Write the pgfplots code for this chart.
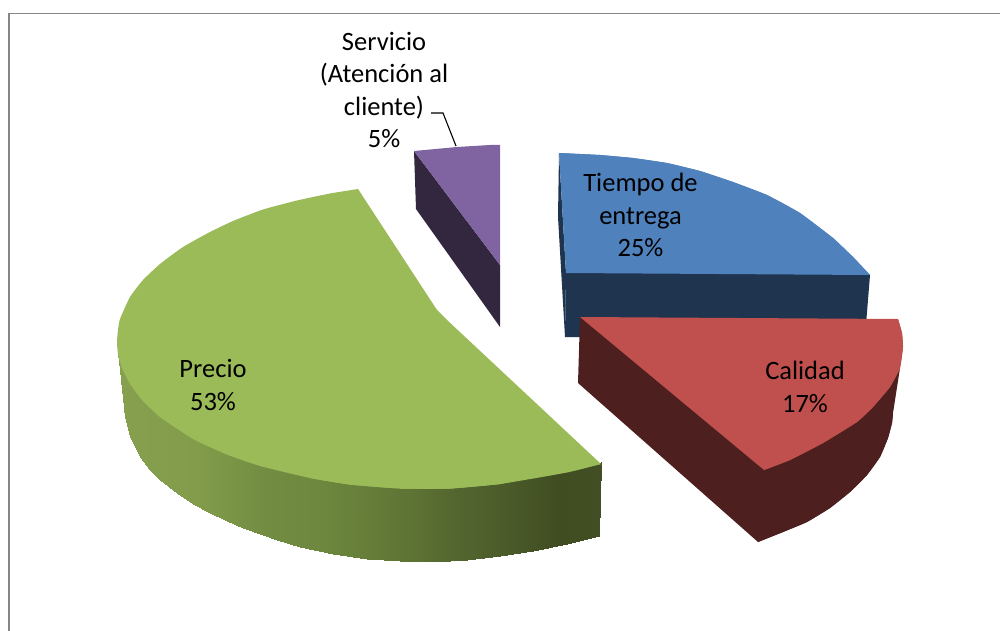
\documentclass[border=0pt]{standalone}
\usepackage{pgfplots}
\pgfplotsset{compat=1.18}
\usepackage{fontspec}
\setmainfont{Carlito}
\definecolor{bordergray}{HTML}{868686}
\definecolor{greentop}{HTML}{9BBB59}
\definecolor{bluetop}{HTML}{4F81BD}
\definecolor{blueside}{HTML}{1F344E}
\definecolor{redtop}{HTML}{C0504D}
\definecolor{redside}{HTML}{4D1F1E}
\definecolor{purpletop}{HTML}{8064A2}
\definecolor{purpleside}{HTML}{33273F}
\tikzset{lbl/.style={font=\fontsize{26.5}{32.4}\selectfont, align=center, text=black, inner sep=0pt},
  arc/.style={draw=none, smooth, tension=0.3}}
\begin{document}
\begin{tikzpicture}
\path[use as bounding box] (0,0) rectangle (1000pt,631pt);
\begin{axis}[
  at={(0,0)}, anchor=south west,
  width=1000pt, height=631pt, scale only axis,
  xmin=0, xmax=1000, ymin=0, ymax=631, y dir=reverse,
  hide axis, clip=true,
  colormap={greenside}{
    rgb255(0pt)=(134,160,79) rgb255(80pt)=(130,156,76) rgb255(113pt)=(122,149,70)
    rgb255(147pt)=(114,141,66) rgb255(197pt)=(110,137,63) rgb255(247pt)=(102,126,57)
    rgb255(297pt)=(93,114,52) rgb255(330pt)=(85,104,48) rgb255(380pt)=(76,93,43)
    rgb255(440pt)=(64,77,33) rgb255(483pt)=(66,78,35)},
  point meta min=118, point meta max=601,
]
% chart frame: only its left and top edges fall inside the page
\addplot[bordergray, line width=2pt] coordinates {(9,640) (9,13)};
\addplot[bordergray, line width=1.2pt] coordinates {(8,13.5) (1010,13.5)};

% Servicio: 5%
\addplot[fill=purpleside, draw=none] coordinates {(414,151) (416,209) (500,327) (500,265)} -- cycle;
\addplot[fill=purpletop, draw=none] coordinates {(414,151) (457,147) (490,145) (500,145) (500,265)} -- cycle;

% Tiempo de entrega: 25%
\addplot[fill=blueside, draw=none] coordinates {(566,270) (866,272) (870,275) (865,337) (565,337)} -- cycle;
\addplot[fill=blueside, draw=none] coordinates {(559,153) (558,217) (565,337) (566,273)} -- cycle;
\addplot[fill=bluetop, arc] coordinates {(559,153) (600,155) (633,158) (667,163) (700,171) (733,182) (767,195) (800,213) (833,238) (853,257) (870,275)};
\addplot[fill=bluetop, draw=none] coordinates {(559,153) (600,155) (633,158) (667,163) (700,171) (733,182) (767,195) (800,213) (833,238) (853,257) (870,275) (566,273)} -- cycle;

% Calidad: 17%
\addplot[fill=redside, arc] coordinates {(758,542) (783,532) (807,522) (830,508) (850,492) (867,475) (880,457) (888,438) (892,423) (893,413)};
\addplot[fill=redside, draw=none] coordinates {(580,317) (578,383) (758,542) (783,532) (807,522) (830,508) (850,492) (867,475) (880,457) (888,438) (892,423) (893,413) (900,368)} -- cycle;
\addplot[fill=redtop, arc] coordinates {(898,319) (902,333) (903,347) (900,368) (890,387) (873,407) (857,422) (823,443) (790,460) (764,470)};
\addplot[fill=redtop, draw=none] coordinates {(580,317) (898,319) (902,333) (903,347) (900,368) (890,387) (873,407) (857,422) (823,443) (790,460) (764,470)} -- cycle;

% Precio: 53%, side wall shaded along x
\addplot[surf, shader=interp, mesh/rows=2, point meta=x] table {
x y
118 345
120 330
125 340
130 355
140 370
150 385
160 400
177 410
193 425
210 435
227 445
243 450
260 455
277 460
300 465
333 474
367 478
400 481
433 481
467 480
500 476
533 471
567 464
601 462
118 354
120 370
125 417
130 437
140 457
150 470
160 480
177 493
193 504
210 513
227 521
243 527.5
260 533.5
277 539.5
300 546.5
333 554
367 558.5
400 561
433 561.5
467 560
500 556
533 551
567 544
599 536
};
\addplot[fill=greentop, arc] coordinates {
 (358,189) (330,193.5) (297,200.5) (263,209.5) (233,221) (210,232) (183,247) (160,264) (143,280)
 (130,297) (120,319) (118,330) (117,342) (118,354) (122,368) (130,384) (143,401) (160,417) (193,439) (227,454.6)
 (260,466) (310,478) (350,484.6) (400,488.5) (450,488.5) (500,484)};
\addplot[fill=greentop, arc] coordinates {(310,478) (350,484.6) (400,488.5) (450,488.5) (500,484) (567,472.5) (601,464)};
\addplot[fill=greentop, draw=none] coordinates {(358,189) (437,310) (447,320) (601,464) (500,484) (450,488.5) (400,488.5)} -- cycle;

% leader line of the Servicio label
\addplot[black, line width=1.1pt] coordinates {(431,113) (443,113) (456,146)};

% labels
\node[lbl] at (axis cs:384,90) {Servicio\\(Atención al\\cliente)\\5\%};
\node[lbl] at (axis cs:640.5,215) {Tiempo de\\entrega\\25\%};
\node[lbl] at (axis cs:805,387) {Calidad\\17\%};
\node[lbl] at (axis cs:213,385) {Precio\\53\%};
\end{axis}
\end{tikzpicture}
\end{document}
